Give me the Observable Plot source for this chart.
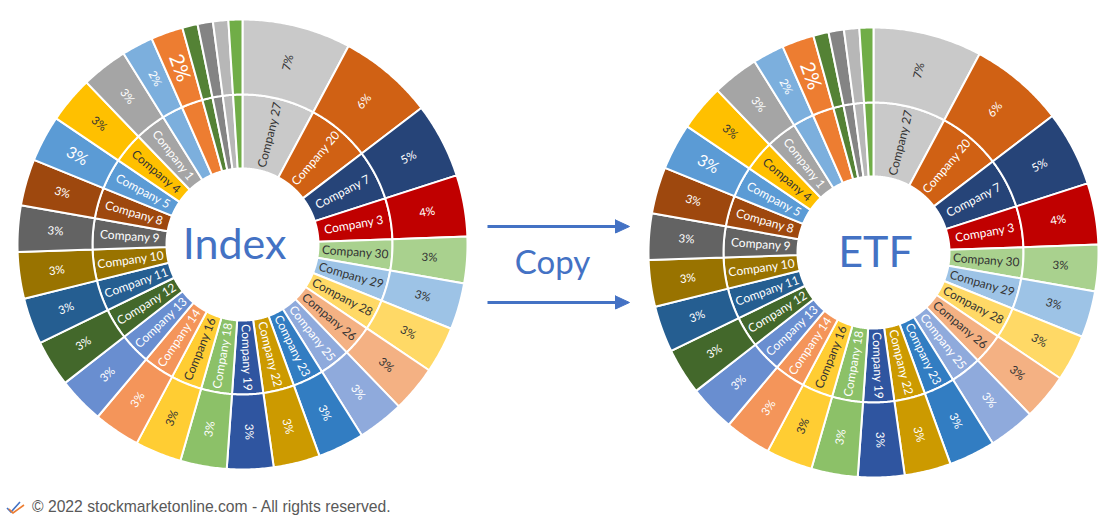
<!DOCTYPE html>
<html>
<head>
<meta charset="utf-8">
<script src="https://cdn.jsdelivr.net/npm/d3@7"></script>
<script src="https://cdn.jsdelivr.net/npm/@observablehq/plot@0.6"></script>
<style>
  html, body { margin: 0; padding: 0; background: #fff; }
  #wrap { position: relative; width: 1119px; height: 519px; overflow: hidden; }
  #footer { position: absolute; left: 6px; top: 496px; height: 22px; display: flex; align-items: center;
            font-family: "Liberation Sans", Arial, sans-serif; font-size: 15.7px; color: #595959; }
  #footer svg { margin-right: 6px; }
</style>
</head>
<body>
<div id="wrap">
  <div id="chart"></div>
  <div id="footer">
    <svg width="20" height="14" viewBox="0 0 20 14">
      <path d="M1 8 L5 12 L14 2" fill="none" stroke="#4472C4" stroke-width="1.6"/>
      <path d="M3 9 L7 13 L18 5" fill="none" stroke="#ED7D31" stroke-width="1.6"/>
    </svg>
    <span>© 2022 stockmarketonline.com - All rights reserved.</span>
  </div>
</div>
<script>
// ---- data (clockwise from 12 o'clock) ----
const companies = [
  "Company 27", "Company 20", "Company 7", "Company 3", "Company 30", "Company 29",
  "Company 28", "Company 26", "Company 25", "Company 23", "Company 22", "Company 19",
  "Company 18", "Company 16", "Company 14", "Company 13", "Company 12", "Company 11",
  "Company 10", "Company 9", "Company 8", "Company 5", "Company 4", "Company 1",
  "Company 24", "Company 21", "Company 17", "Company 15", "Company 6", "Company 2"
];
const weights = [
  7.8, 6.8, 5.4, 4.4, 3.33, 3.33,
  3.33, 3.33, 3.33, 3.33, 3.33, 3.33,
  3.33, 3.33, 3.33, 3.33, 3.33, 3.33,
  3.33, 3.33, 3.33, 3.33, 3.33, 3.33,
  2.25, 2.3, 1.1, 1.1, 1.1, 1.0
];
const colors = [
  "#C9C9C9", "#D06114", "#264478", "#C00000", "#A9D18E", "#9DC3E6",
  "#FFD966", "#F4B183", "#8FAADC", "#327DC2", "#CC9A00", "#2F55A0",
  "#8CC168", "#FFCD33", "#F4955A", "#698ED0", "#43682B", "#255E91",
  "#997300", "#636363", "#9E480E", "#5B9BD5", "#FFC000", "#A5A5A5",
  "#7CAFDD", "#ED7D31", "#548235", "#848484", "#B7B7B7", "#70AD47"
];
const darkText = ["Company 27", "Company 30", "Company 29", "Company 28", "Company 26", "Company 16", "Company 4"];
const chartNames = ["Index", "ETF"];
const arrowLabel = "Copy";

// ---- layout / style config ----
const layout = {
  Index: {cx: 242, cy: 244, titleDx: -8},
  ETF: {cx: 873, cy: 252, titleDx: 2}
};
const R0 = 76, R1 = 150, R2 = 225;
const W = 1119, H = 492;
const bigLabel = {"Company 5": 16, "Company 21": 20};
const blue = "#4472C4";

// ---- geometry ----
const total = d3.sum(weights);
let acc = 0;
const slices = companies.map((name, i) => {
  const a0 = acc / total * 360;
  acc += weights[i];
  const a1 = acc / total * 360;
  return {name, value: weights[i], a0, a1, mid: (a0 + a1) / 2, color: colors[i],
          text: darkText.includes(name) ? "#333333" : "#ffffff"};
});
const rad = (a) => a * Math.PI / 180;
const pt = (c, r, a) => [c.cx + r * Math.sin(rad(a)), c.cy - r * Math.cos(rad(a))];

const polys = [];
const labels = [];
for (const chart of chartNames) {
  const c = layout[chart];
  for (const s of slices) {
    for (const [ring, rin, rout] of [["in", R0, R1], ["out", R1, R2]]) {
      const id = `${chart}-${s.name}-${ring}`;
      const n = Math.max(2, Math.ceil((s.a1 - s.a0) / 0.5));
      const pts = [];
      for (let k = 0; k <= n; k++) pts.push(pt(c, rout, s.a0 + (s.a1 - s.a0) * k / n));
      for (let k = n; k >= 0; k--) pts.push(pt(c, rin, s.a0 + (s.a1 - s.a0) * k / n));
      pts.push(pts[0]);
      for (const [x, y] of pts) polys.push({id, x, y, color: s.color});
    }
    const rot = s.mid < 180 ? s.mid - 90 : s.mid + 90;
    if (s.value >= 3) {
      const [x, y] = pt(c, (R0 + R1) / 2, s.mid);
      labels.push({x, y, text: s.name, rotate: rot, fill: s.text, size: 12});
    }
    if (s.value >= 2) {
      const [x, y] = pt(c, (R1 + R2) / 2, s.mid);
      labels.push({x, y, text: Math.floor(s.value) + "%", rotate: rot, fill: s.text,
                   size: bigLabel[s.name] || 11.5});
    }
  }
}
const titles = chartNames.map(n => ({x: layout[n].cx + layout[n].titleDx, y: layout[n].cy + 1, text: n}));

// arrows between the charts
const arrows = [{y: 226}, {y: 302}].map(d => ({x1: 487, x2: 617, xTip: 629, y: d.y}));
const heads = [];
arrows.forEach((a, i) => {
  [[a.x2 - 2, a.y - 6.5], [a.xTip, a.y], [a.x2 - 2, a.y + 6.5], [a.x2 - 2, a.y - 6.5]]
    .forEach(([x, y]) => heads.push({id: "h" + i, x, y}));
});

const plot = Plot.plot({
  width: W, height: H,
  margin: 0,
  x: {domain: [0, W], range: [0, W], axis: null},
  y: {domain: [0, H], range: [0, H], axis: null},
  color: {type: "identity"},
  style: {fontFamily: "Lato, 'Open Sans', sans-serif", background: "#fff"},
  marks: [
    Plot.line(polys, {x: "x", y: "y", z: "id", fill: "color", stroke: "#fff", strokeWidth: 2, curve: "linear"}),
    Plot.text(labels, {x: "x", y: "y", text: "text", rotate: "rotate", fill: "fill", fontSize: "size"}),
    Plot.text(titles, {x: "x", y: "y", text: "text", fill: blue, fontSize: 43}),
    Plot.link(arrows, {x1: "x1", x2: "x2", y1: "y", y2: "y", stroke: blue, strokeWidth: 3}),
    Plot.line(heads, {x: "x", y: "y", z: "id", fill: blue, stroke: blue, strokeWidth: 1}),
    Plot.text([arrowLabel], {x: () => 552, y: () => 263, text: d => d, fill: blue, fontSize: 33})
  ]
});
document.getElementById("chart").appendChild(plot);
</script>
</body>
</html>
